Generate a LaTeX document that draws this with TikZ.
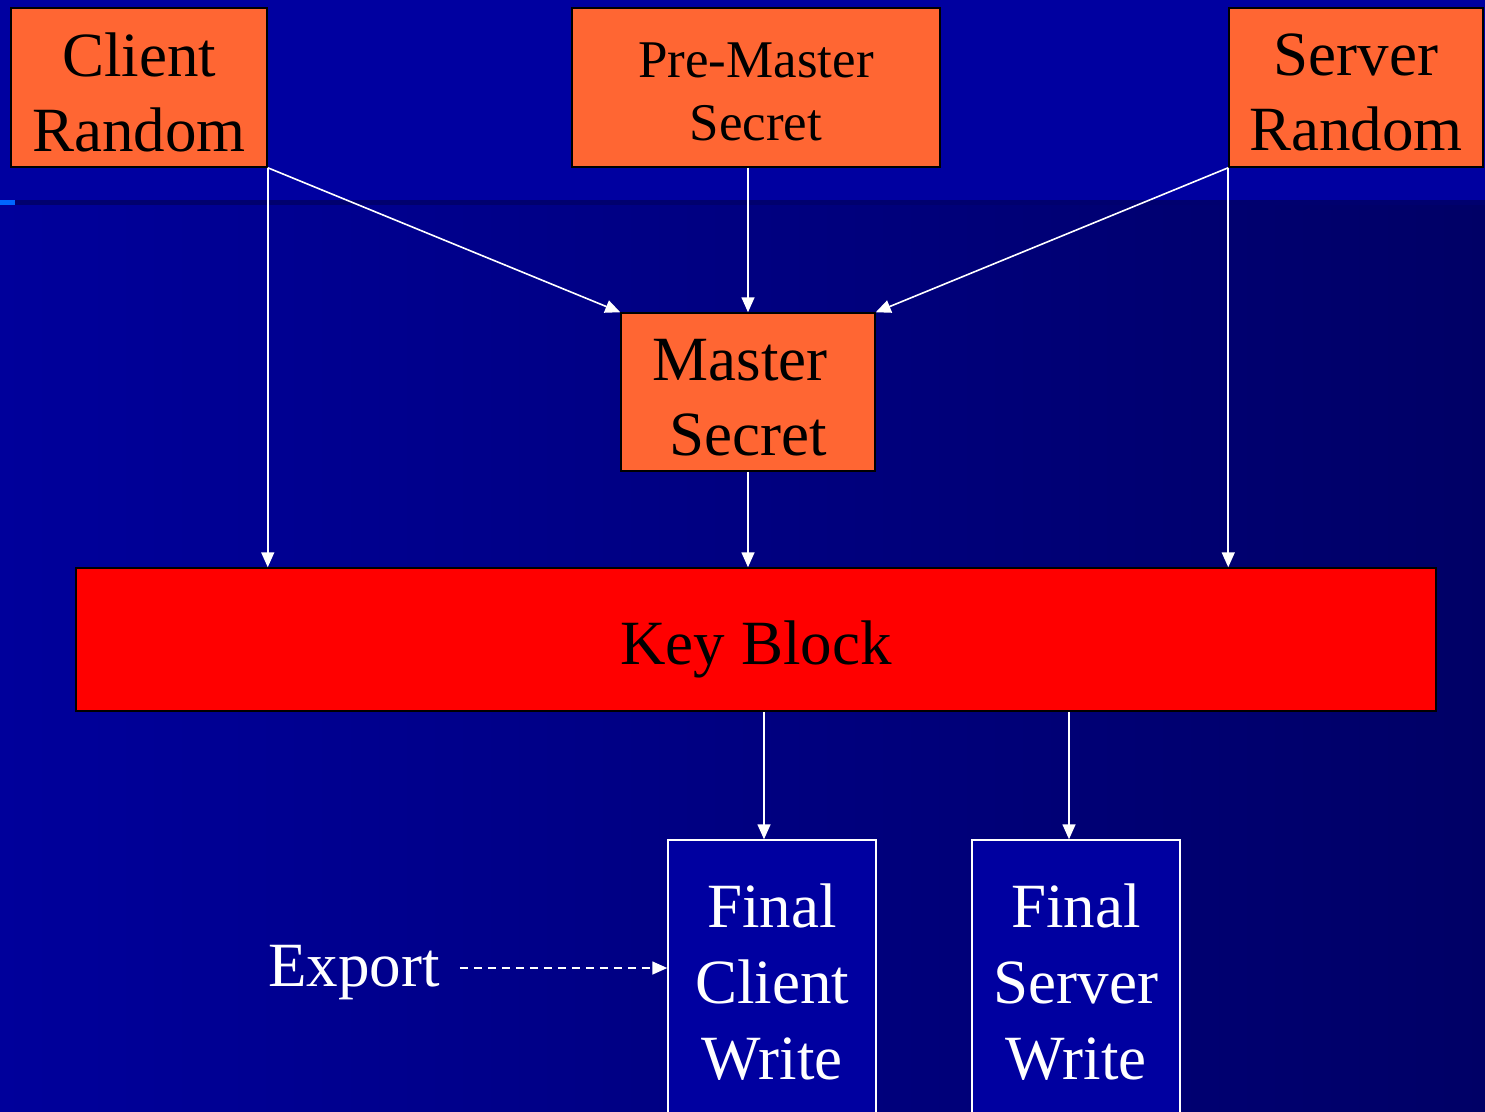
\documentclass[tikz,border=0pt]{standalone}
\usepackage{fontspec}
\setmainfont{Liberation Serif}
\usetikzlibrary{arrows.meta,calc}
\definecolor{orangebox}{RGB}{255,102,51}
\definecolor{bandblue}{RGB}{0,0,160}
\definecolor{bgleft}{RGB}{0,0,155}
\definecolor{bgright}{RGB}{0,0,102}
\definecolor{sepline}{RGB}{0,0,110}
\definecolor{sepblue}{RGB}{0,102,255}
\definecolor{finalfill}{RGB}{0,0,160}
\tikzset{
  obox/.style={draw=black, line width=1.5pt, fill=orangebox, inner sep=0pt},
  otext/.style={inner sep=0pt, align=center, font=\fontsize{63}{75}\selectfont},
  fbox/.style={draw=white, line width=1.5pt, fill=finalfill, inner sep=0pt, align=center, text=white, font=\fontsize{63}{76}\selectfont, minimum width=208pt, minimum height=284pt},
  conn/.style={draw=white, line width=1.6pt, -{Triangle[length=15pt,width=13pt]}},
}
\begin{document}
\begin{tikzpicture}[x=1pt,y=-1pt]
\clip (0,0) rectangle (1485,1111);
% background
\fill[bandblue] (0,0) rectangle (1485,203);
\shade[left color=bgleft, right color=bgright] (0,203) rectangle (1485,1111);
\fill[sepline] (0,200) rectangle (1485,205);
\fill[sepblue] (0,200) rectangle (15,205);
% boxes
\node[obox, minimum width=256pt, minimum height=159pt] (cr) at (139,87.5) {};
\node[obox, minimum width=368pt, minimum height=159pt] (pm) at (756,87.5) {};
\node[obox, minimum width=254pt, minimum height=159pt] (sr) at (1356,87.5) {};
\node[obox, minimum width=254pt, minimum height=158pt] (ms) at (748,392) {};
\node[obox, fill=red, minimum width=1360pt, minimum height=143pt] (kb) at (756,639.5) {};
% box texts
\node[otext] (crt) at ([yshift=-5pt]cr.center) {Client\\Random};
\node[otext, font=\fontsize{53}{63}\selectfont] (pmt) at ([yshift=-4pt]pm.center) {Pre-Master\\Secret};
\node[otext] (srt) at ([yshift=-5pt]sr.center) {Server\\Random};
\node[otext] (mst) at ([yshift=-6pt]ms.center) {\mbox{Master\ }\\Secret};
\node[otext] (kbt) at ([yshift=-10pt]kb.center) {Key Block};
\node[fbox] (fc) at (772,982) {Final\\Client\\Write};
\node[fbox] (fs) at (1076,982) {Final\\Server\\Write};
\node[text=white, otext] (ex) at (354,973) {Export};
% connectors
\draw[conn] (cr.south east) -- (ms.north west);
\draw[conn] (cr.south east) -- (cr.south east |- kb.north);
\draw[conn] (ms.north |- pm.south) -- (ms.north);
\draw[conn] (sr.south west) -- (ms.north east);
\draw[conn] (sr.south west) -- (sr.south west |- kb.north);
\draw[conn] (ms.south) -- (ms.south |- kb.north);
\draw[conn] ([xshift=-8pt]fc.north |- kb.south) -- ([xshift=-8pt]fc.north);
\draw[conn] ([xshift=-7pt]fs.north |- kb.south) -- ([xshift=-7pt]fs.north);
\coordinate (exa) at ([xshift=20pt]ex.east |- 0,968);
\draw[conn, dash pattern=on 8pt off 6pt] (exa) -- (exa -| fc.west);
\end{tikzpicture}
\end{document}
